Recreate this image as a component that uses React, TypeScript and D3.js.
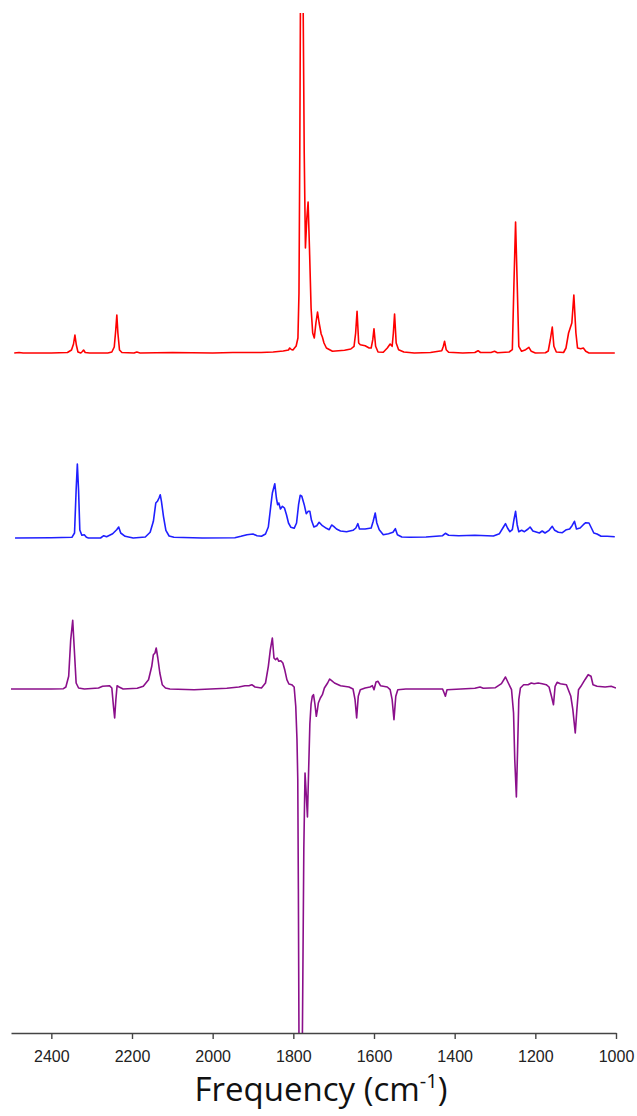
import { useRef, useEffect } from "react";
import * as d3 from "d3";

type Pt = [number, number];

// wavenumber (cm-1), intensity relative to each trace's own baseline
const redSpectrum: Pt[] = [
  [2492, 0], [2480, 0.005], [2470, 0], [2400, 0], [2360, 0.005], [2350, 0.03],
  [2345, 0.09], [2341.5, 0.18], [2338, 0.08], [2334, 0.01], [2327, 0], [2323, 0.015],
  [2320, 0.03], [2316, 0.005], [2305, 0], [2260, 0], [2250, 0.01], [2244, 0.06],
  [2240.5, 0.22], [2237.6, 0.38], [2235, 0.2], [2231, 0.03], [2225, 0.005], [2195, 0],
  [2188, 0.01], [2180, 0], [2100, 0.005], [2000, 0], [1950, 0.005], [1880, 0.005],
  [1850, 0.01], [1825, 0.02], [1812, 0.03], [1809, 0.05], [1805, 0.035], [1801, 0.03],
  [1793, 0.07], [1788.6, 0.15], [1786, 0.6], [1784, 2.0], [1782.5, 3.4], [1779, 5.0],
  [1775.5, 3.4], [1773, 2.0], [1770, 1.05], [1766.5, 1.35], [1763.4, 1.51], [1760, 1.05],
  [1756, 0.45], [1752, 0.2], [1748, 0.15], [1744, 0.3], [1740, 0.41], [1736, 0.3],
  [1731, 0.19], [1728, 0.16], [1724, 0.1], [1718, 0.05], [1703, 0.017], [1673, 0.027],
  [1657.5, 0.04], [1649.5, 0.067], [1645.5, 0.2], [1642, 0.417], [1638, 0.1], [1634, 0.083],
  [1622, 0.073], [1612, 0.05], [1607, 0.05], [1603, 0.133], [1600, 0.243], [1596, 0.067],
  [1590, 0.01], [1577, 0.007], [1567, 0.05], [1560, 0.09], [1555, 0.067], [1552, 0.2],
  [1549, 0.39], [1545, 0.1], [1539, 0.033], [1526, 0.01], [1500, 0], [1460, 0.005],
  [1432, 0.023], [1428, 0.067], [1425, 0.117], [1421, 0.033], [1415, 0.007], [1380, 0],
  [1350, 0.005], [1342, 0.023], [1336, 0.005], [1310, 0.005], [1301, 0.017], [1294, 0.003],
  [1265, 0.01], [1257, 0.033], [1253, 0.7], [1249, 1.31], [1245, 0.7], [1241, 0.067],
  [1234, 0.017], [1224, 0.033], [1216, 0.057], [1210, 0.017], [1200, 0], [1175, 0.003],
  [1168, 0.02], [1163, 0.13], [1158, 0.26], [1154, 0.067], [1148, 0.01], [1130, 0.005],
  [1124, 0.05], [1117.6, 0.2], [1109.5, 0.3], [1104.5, 0.58], [1099.4, 0.2], [1095.4, 0.05],
  [1087.4, 0.043], [1081, 0.05], [1075, 0.017], [1067, 0], [1003, 0],
];

const blueSpectrum: Pt[] = [
  [2490, 0], [2400, 0.003], [2349, 0.007], [2342.5, 0.05], [2338.5, 0.48], [2335.5, 0.74],
  [2332.5, 0.48], [2329.4, 0.08], [2324.4, 0.027], [2318.3, 0.033], [2313, 0.007], [2308, 0],
  [2278, 0], [2270, 0.023], [2263, 0.013], [2248, 0.043], [2238, 0.083], [2233, 0.11],
  [2228, 0.05], [2217, 0.017], [2197, 0], [2167, 0.01], [2155, 0.057], [2147, 0.167],
  [2141, 0.35], [2137, 0.367], [2133, 0.4], [2130, 0.433], [2127, 0.367], [2122, 0.217],
  [2116, 0.077], [2108, 0.02], [2096, 0.007], [2026, 0], [1945, 0.003], [1930, 0.017],
  [1915, 0.033], [1900, 0.04], [1890, 0.023], [1879, 0.017], [1869, 0.04], [1862, 0.11],
  [1856, 0.317], [1852, 0.45], [1846, 0.543], [1842, 0.4], [1839, 0.333], [1836, 0.35],
  [1832, 0.29], [1827, 0.317], [1822, 0.3], [1817, 0.233], [1812, 0.15], [1806, 0.107],
  [1798, 0.097], [1792, 0.15], [1787, 0.333], [1783, 0.427], [1779, 0.417], [1773, 0.333],
  [1768, 0.243], [1763, 0.267], [1759, 0.267], [1755, 0.177], [1749, 0.11], [1742, 0.123],
  [1736, 0.157], [1728, 0.123], [1718, 0.097], [1711, 0.083], [1705, 0.13], [1700, 0.117],
  [1693, 0.09], [1683, 0.07], [1668, 0.063], [1652, 0.077], [1645, 0.1], [1640, 0.143],
  [1636, 0.09], [1622, 0.09], [1607, 0.1], [1602, 0.167], [1597, 0.25], [1593, 0.15],
  [1587, 0.083], [1577, 0.033], [1564, 0.043], [1553, 0.057], [1547, 0.093], [1542, 0.033],
  [1531, 0.01], [1511, 0.007], [1471, 0.01], [1430, 0.023], [1423, 0.047], [1415, 0.027],
  [1390, 0.023], [1350, 0.027], [1304, 0.02], [1289, 0.043], [1279, 0.11], [1274, 0.143],
  [1269, 0.1], [1263, 0.063], [1257, 0.083], [1253, 0.183], [1249, 0.267], [1245, 0.133],
  [1241, 0.063], [1234, 0.077], [1227, 0.063], [1218, 0.09], [1213, 0.11], [1206, 0.07],
  [1198, 0.06], [1190, 0.05], [1183, 0.07], [1176, 0.05], [1166, 0.077], [1158, 0.117],
  [1152, 0.077], [1143, 0.057], [1133, 0.053], [1123, 0.083], [1115, 0.09], [1109, 0.123],
  [1103, 0.167], [1098, 0.09], [1089, 0.1], [1081, 0.133], [1075, 0.153], [1067, 0.15],
  [1061, 0.1], [1055, 0.05], [1047, 0.04], [1037, 0.017], [1022, 0.017], [1003, 0.013],
];

const purpleSpectrum: Pt[] = [
  [2500, 0], [2400, 0], [2370, 0.003], [2364, 0.02], [2357, 0.127], [2352, 0.49],
  [2347, 0.687], [2343, 0.393], [2338.5, 0.06], [2332.4, 0.01], [2318, 0], [2283, 0.01],
  [2273, 0.027], [2256, 0.033], [2250, 0.01], [2246, -0.173], [2243, -0.29], [2240, -0.107],
  [2237, 0.033], [2232, 0.02], [2222, 0], [2187, 0.007], [2172, 0.027], [2159, 0.093],
  [2151, 0.227], [2147, 0.343], [2143, 0.36], [2140, 0.41], [2136, 0.31], [2131, 0.16],
  [2125, 0.043], [2117, 0.01], [2106, 0], [2046, -0.007], [1965, 0.007], [1935, 0.02],
  [1920, 0.033], [1910, 0.033], [1903, 0.043], [1895, 0.02], [1879, 0.01], [1869, 0.06],
  [1862, 0.227], [1857, 0.393], [1852, 0.51], [1848, 0.31], [1844, 0.293], [1840, 0.31],
  [1836, 0.277], [1831, 0.283], [1826, 0.26], [1821, 0.187], [1816, 0.093], [1811, 0.05],
  [1804, 0.043], [1798, 0.02], [1794, -0.173], [1791, -0.5], [1789, -0.9], [1787.5, -2.0],
  [1786, -3.5], [1782, -5.0], [1777.6, -3.5], [1774, -1.6], [1771, -0.84], [1768, -1.05],
  [1765, -1.28], [1762, -0.8], [1759, -0.35], [1756, -0.15], [1753, -0.073], [1750, -0.057],
  [1746.5, -0.15], [1743, -0.273], [1740, -0.2], [1738, -0.14], [1733, -0.09], [1728, -0.057],
  [1723, 0.01], [1715, 0.06], [1710, 0.1], [1705, 0.083], [1698, 0.06], [1683, 0.033],
  [1662, 0.02], [1652, 0], [1647, -0.107], [1643, -0.29], [1639, -0.073], [1634, -0.007],
  [1622, 0.01], [1610, 0.02], [1604, 0.033], [1600, -0.007], [1595, 0.07], [1590, 0.077],
  [1584, 0.033], [1567, 0.02], [1560, -0.007], [1555, -0.107], [1550.5, -0.307], [1546, -0.073],
  [1541, -0.007], [1521, 0], [1430, 0], [1426, -0.04], [1423, -0.073], [1419, -0.007],
  [1350, 0.007], [1337, 0.02], [1329, 0.007], [1299, 0.013], [1284, 0.053], [1274, 0.12],
  [1267, 0.06], [1259, -0.007], [1254, -0.24], [1251, -0.707], [1247, -1.08], [1244, -0.607],
  [1241, -0.107], [1237, 0.01], [1229, 0.043], [1218, 0.043], [1210, 0.06], [1203, 0.053],
  [1193, 0.06], [1183, 0.053], [1173, 0.043], [1166, 0.02], [1160, -0.073], [1155, -0.157],
  [1151, 0.027], [1146, 0.067], [1138, 0.053], [1123, 0.043], [1112, -0.073], [1107, -0.207],
  [1101, -0.44], [1097, -0.207], [1093, -0.007], [1087, 0.027], [1077, 0.093], [1069, 0.143],
  [1062, 0.127], [1057, 0.043], [1047, 0.027], [1027, 0.02], [1012, 0.027], [1000, 0.01],
];

const traces = [redSpectrum, blueSpectrum, purpleSpectrum];
const traceOffsets = [3.36, 1.51, 0];
const traceColors = ["#ff0000", "#1f1fff", "#8b0f8b"];

const xTicks = [2400, 2200, 2000, 1800, 1600, 1400, 1200, 1000];

const App = () => {
  const svgRef = useRef(null);

  useEffect(() => {
    document.body.style.margin = "0";

    const width = 637;
    const height = 1116;
    const plot = { left: 11, right: 616, top: 13, bottom: 1033 };

    const svg = d3.select(svgRef.current);
    svg.selectAll("*").remove();
    svg.attr("width", width).attr("height", height).attr("viewBox", `0 0 ${width} ${height}`);

    const xScale = d3.scaleLinear().domain([2500, 1000]).range([plot.left, plot.right]);
    const yScale = d3.scaleLinear().domain([-3.44, 6.76]).range([plot.bottom, plot.top]);

    svg
      .append("clipPath")
      .attr("id", "plot-clip")
      .append("rect")
      .attr("x", plot.left)
      .attr("y", plot.top)
      .attr("width", plot.right - plot.left)
      .attr("height", plot.bottom - plot.top);

    const lines = svg.append("g").attr("clip-path", "url(#plot-clip)");

    traces.forEach((trace, i) => {
      const line = d3
        .line<Pt>()
        .x((d) => xScale(d[0]))
        .y((d) => yScale(d[1] + traceOffsets[i]));
      lines
        .append("path")
        .datum(trace)
        .attr("d", line)
        .attr("fill", "none")
        .attr("stroke", traceColors[i])
        .attr("stroke-width", 1.6)
        .attr("stroke-linejoin", "round");
    });

    const xAxis = svg
      .append("g")
      .attr("transform", `translate(0,${plot.bottom})`)
      .call(d3.axisBottom(xScale).tickValues(xTicks).tickSize(6).tickSizeOuter(0).tickFormat(d3.format("d")));

    xAxis.select(".domain").attr("stroke", "#444").attr("stroke-width", 1.4);
    xAxis.selectAll(".tick line").attr("stroke", "#444").attr("stroke-width", 1.4);
    xAxis
      .selectAll(".tick text")
      .attr("font-family", "'Liberation Sans', Arial, sans-serif")
      .attr("font-size", 16)
      .attr("fill", "#222")
      .attr("dy", "0.71em")
      .attr("y", 18);

    const title = svg
      .append("text")
      .attr("x", 321)
      .attr("y", 1101)
      .attr("text-anchor", "middle")
      .attr("font-family", "'Open Sans', Lato, sans-serif")
      .attr("font-size", 33)
      .attr("fill", "#111");
    title.append("tspan").text("Frequency (cm");
    title.append("tspan").attr("font-size", 20).attr("dy", -13).text("-1");
    title.append("tspan").attr("dy", 13).text(")");
  }, []);

  return <svg ref={svgRef} style={{ display: "block" }}></svg>;
};

export default App;
